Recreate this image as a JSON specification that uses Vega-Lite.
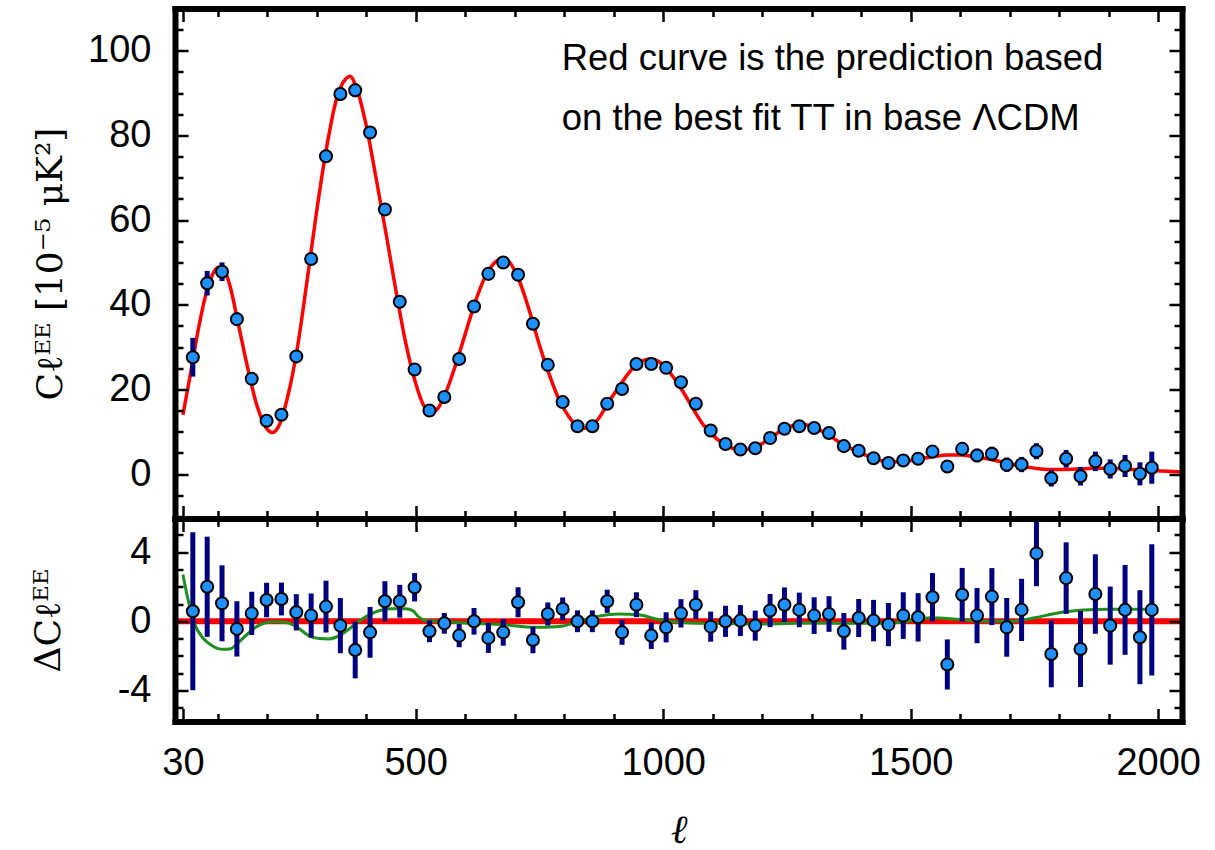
{
"$schema": "https://vega.github.io/schema/vega-lite/v6.json",
"autosize": {"type": "pad"},
"padding": {"left": 30, "top": 6.5, "right": 5, "bottom": 5},
"background": "white",
"bounds": "flush",
"spacing": 0,
"datasets": {
"bins": [
{"l":50,"c":27.6,"r":0.58,"e":4.57},{"l":79,"c":45.1,"r":2.0,"e":2.9},{"l":109,"c":47.8,"r":1.04,"e":2.2},{"l":139,"c":36.6,"r":-0.44,"e":1.6},{"l":169,"c":22.5,"r":0.46,"e":1.25},{"l":199,"c":12.6,"r":1.23,"e":1.0},{"l":229,"c":14.0,"r":1.29,"e":0.95},{"l":259,"c":27.8,"r":0.52,"e":1.05},{"l":289,"c":50.8,"r":0.33,"e":1.28},{"l":319,"c":75.1,"r":0.85,"e":1.5},{"l":348,"c":89.8,"r":-0.25,"e":1.6},{"l":378,"c":90.7,"r":-1.66,"e":1.64},{"l":408,"c":80.7,"r":-0.64,"e":1.47},{"l":438,"c":62.5,"r":1.16,"e":1.16},{"l":468,"c":40.7,"r":1.16,"e":0.95},{"l":498,"c":24.7,"r":1.97,"e":0.82},{"l":528,"c":15.0,"r":-0.58,"e":0.63},{"l":558,"c":18.2,"r":-0.12,"e":0.6},{"l":588,"c":27.2,"r":-0.83,"e":0.67},{"l":618,"c":39.6,"r":0.0,"e":0.77},{"l":647,"c":47.3,"r":-0.96,"e":0.87},{"l":677,"c":50.0,"r":-0.64,"e":0.77},{"l":707,"c":47.1,"r":1.1,"e":0.87},{"l":737,"c":35.5,"r":-1.08,"e":0.77},{"l":767,"c":25.8,"r":0.42,"e":0.67},{"l":797,"c":17.0,"r":0.71,"e":0.67},{"l":827,"c":11.3,"r":0.0,"e":0.63},{"l":857,"c":11.3,"r":0.0,"e":0.63},{"l":887,"c":16.6,"r":1.16,"e":0.67},{"l":917,"c":20.1,"r":-0.64,"e":0.72},{"l":946,"c":26.0,"r":0.96,"e":0.72},{"l":976,"c":26.0,"r":-0.83,"e":0.77},{"l":1006,"c":25.1,"r":-0.35,"e":0.87},{"l":1036,"c":21.7,"r":0.46,"e":0.82},{"l":1066,"c":16.6,"r":0.96,"e":0.84},{"l":1096,"c":10.3,"r":-0.31,"e":0.87},{"l":1126,"c":7.1,"r":0.0,"e":0.9},{"l":1156,"c":5.8,"r":0.04,"e":0.9},{"l":1186,"c":6.1,"r":-0.25,"e":0.87},{"l":1216,"c":8.5,"r":0.62,"e":0.96},{"l":1245,"c":10.7,"r":0.96,"e":1.0},{"l":1275,"c":11.3,"r":0.66,"e":1.0},{"l":1305,"c":10.9,"r":0.33,"e":1.06},{"l":1335,"c":9.7,"r":0.42,"e":1.03},{"l":1365,"c":6.6,"r":-0.58,"e":1.06},{"l":1395,"c":5.5,"r":0.19,"e":1.1},{"l":1425,"c":3.75,"r":0.04,"e":1.2},{"l":1455,"c":2.6,"r":-0.19,"e":1.25},{"l":1485,"c":3.2,"r":0.33,"e":1.35},{"l":1515,"c":3.6,"r":0.23,"e":1.4},{"l":1544,"c":5.3,"r":1.39,"e":1.4},{"l":1574,"c":1.8,"r":-2.5,"e":1.45},{"l":1604,"c":5.95,"r":1.54,"e":1.55},{"l":1634,"c":4.4,"r":0.33,"e":1.6},{"l":1664,"c":4.8,"r":1.43,"e":1.65},{"l":1694,"c":2.2,"r":-0.35,"e":1.7},{"l":1724,"c":2.25,"r":0.66,"e":1.8},{"l":1754,"c":5.4,"r":3.93,"e":1.9},{"l":1784,"c":-1.0,"r":-1.89,"e":1.93},{"l":1814,"c":3.6,"r":2.5,"e":2.07},{"l":1843,"c":-0.5,"r":-1.6,"e":2.2},{"l":1873,"c":3.0,"r":1.58,"e":2.3},{"l":1903,"c":1.2,"r":-0.25,"e":2.26},{"l":1933,"c":1.9,"r":0.66,"e":2.6},{"l":1963,"c":0.05,"r":-0.92,"e":2.72},{"l":1987,"c":1.5,"r":0.66,"e":3.8}
],
"model": [
{"l":30,"v":14.0},{"l":45,"v":23.5},{"l":60,"v":33.5},{"l":80,"v":44},{"l":100,"v":48.8},{"l":108,"v":49},{"l":125,"v":44.5},{"l":140,"v":36.5},{"l":160,"v":25.5},{"l":180,"v":16},{"l":200,"v":10.6},{"l":210,"v":9.8},{"l":222,"v":11},{"l":240,"v":17.5},{"l":260,"v":29},{"l":280,"v":45},{"l":300,"v":62},{"l":320,"v":77},{"l":340,"v":88.5},{"l":360,"v":93.5},{"l":367,"v":94},{"l":380,"v":91.5},{"l":400,"v":82.5},{"l":420,"v":70},{"l":440,"v":57},{"l":460,"v":43.5},{"l":480,"v":31},{"l":500,"v":21.5},{"l":515,"v":16.5},{"l":530,"v":14.4},{"l":545,"v":15.5},{"l":560,"v":19},{"l":580,"v":25.5},{"l":600,"v":33},{"l":620,"v":40.5},{"l":640,"v":46.5},{"l":660,"v":50},{"l":675,"v":51},{"l":690,"v":50},{"l":710,"v":45.5},{"l":730,"v":38.5},{"l":750,"v":30.5},{"l":770,"v":23.5},{"l":790,"v":17.5},{"l":810,"v":13.5},{"l":825,"v":11.4},{"l":840,"v":10.8},{"l":855,"v":11.3},{"l":870,"v":13.2},{"l":890,"v":17},{"l":910,"v":20.5},{"l":930,"v":23.8},{"l":950,"v":26.2},{"l":975,"v":27.2},{"l":1000,"v":25.8},{"l":1020,"v":23},{"l":1040,"v":19.5},{"l":1060,"v":15.5},{"l":1080,"v":11.8},{"l":1100,"v":9.2},{"l":1120,"v":7.3},{"l":1140,"v":6.1},{"l":1160,"v":5.7},{"l":1180,"v":6.1},{"l":1200,"v":7.2},{"l":1220,"v":8.8},{"l":1240,"v":10.4},{"l":1260,"v":11.4},{"l":1275,"v":11.8},{"l":1290,"v":11.6},{"l":1310,"v":10.8},{"l":1330,"v":9.5},{"l":1350,"v":8.0},{"l":1370,"v":6.6},{"l":1390,"v":5.4},{"l":1410,"v":4.4},{"l":1430,"v":3.5},{"l":1455,"v":2.9},{"l":1480,"v":2.9},{"l":1500,"v":3.2},{"l":1520,"v":3.6},{"l":1545,"v":4.1},{"l":1575,"v":4.5},{"l":1600,"v":4.5},{"l":1630,"v":4.1},{"l":1660,"v":3.5},{"l":1690,"v":2.7},{"l":1720,"v":1.9},{"l":1750,"v":1.4},{"l":1780,"v":1.1},{"l":1810,"v":1.1},{"l":1840,"v":1.2},{"l":1870,"v":1.35},{"l":1900,"v":1.35},{"l":1930,"v":1.2},{"l":1960,"v":1.0},{"l":1990,"v":0.85},{"l":2020,"v":0.65},{"l":2048,"v":0.5}
],
"green": [
{"l":30,"d":2.7},{"l":40,"d":1.3},{"l":55,"d":-0.25},{"l":70,"d":-0.95},{"l":89,"d":-1.41},{"l":110,"d":-1.62},{"l":125,"d":-1.6},{"l":143,"d":-1.2},{"l":160,"d":-0.75},{"l":177,"d":-0.35},{"l":195,"d":-0.1},{"l":215,"d":-0.03},{"l":237,"d":-0.06},{"l":261,"d":-0.35},{"l":284,"d":-0.83},{"l":305,"d":-1.0},{"l":325,"d":-1.02},{"l":352,"d":-0.73},{"l":372,"d":-0.3},{"l":392,"d":0.13},{"l":426,"d":0.61},{"l":450,"d":0.72},{"l":480,"d":0.72},{"l":495,"d":0.6},{"l":506,"d":0.25},{"l":520,"d":0.05},{"l":545,"d":0.0},{"l":600,"d":-0.1},{"l":680,"d":-0.2},{"l":740,"d":-0.35},{"l":790,"d":-0.3},{"l":830,"d":0.0},{"l":870,"d":0.3},{"l":910,"d":0.42},{"l":950,"d":0.38},{"l":990,"d":0.1},{"l":1030,"d":-0.05},{"l":1100,"d":-0.12},{"l":1200,"d":-0.15},{"l":1300,"d":-0.1},{"l":1400,"d":-0.12},{"l":1480,"d":-0.05},{"l":1540,"d":0.2},{"l":1600,"d":0.1},{"l":1660,"d":0.0},{"l":1700,"d":0.0},{"l":1750,"d":0.2},{"l":1800,"d":0.5},{"l":1850,"d":0.65},{"l":1900,"d":0.7},{"l":1990,"d":0.7}
],
"zero": [{"l":14,"d":0},{"l":2048,"d":0}]
},
"vconcat": [
{
"width": 1007, "height": 510,
"resolve": {"axis": {"x": "independent", "y": "independent"}},
"layer": [
{"data": {"name": "model"},
 "mark": {"type": "line", "color": "#ff0000", "strokeWidth": 3.5, "interpolate": "monotone"},
 "encoding": {
  "x": {"field": "l", "type": "quantitative", "scale": {"domain": [14, 2048], "nice": false, "zero": false},
        "axis": {"orient": "bottom", "values": [30, 500, 1000, 1500, 2000], "tickSize": -13, "labels": false, "title": null, "domain": true, "zindex": 1}},
  "y": {"field": "v", "type": "quantitative", "scale": {"domain": [-10.5, 110], "nice": false, "zero": false},
        "axis": {"orient": "left", "values": [0, 20, 40, 60, 80, 100], "tickSize": -13, "labelPadding": 37, "title": "Cℓᴱᴱ  [10⁻⁵ μK²]", "titleFont": "DejaVu Serif", "titleFontSize": 36, "titlePadding": 18, "domain": true, "zindex": 1}}
 }},
{"data": {"name": "bins"},
 "mark": {"type": "errorbar", "thickness": 5, "color": "#000080"},
 "encoding": {
  "x": {"field": "l", "type": "quantitative", "scale": {"domain": [14, 2048], "nice": false, "zero": false},
        "axis": {"orient": "bottom", "values": [100, 200, 300, 400, 600, 700, 800, 900, 1100, 1200, 1300, 1400, 1600, 1700, 1800, 1900], "tickSize": -8, "labels": false, "title": null, "domain": false, "zindex": 1}},
  "y": {"field": "c", "type": "quantitative", "scale": {"domain": [-10.5, 110], "nice": false, "zero": false},
        "axis": {"orient": "left", "values": [-10, -5, 5, 10, 15, 25, 30, 35, 45, 50, 55, 65, 70, 75, 85, 90, 95, 105], "tickSize": -8, "labels": false, "title": null, "domain": false, "zindex": 1}},
  "yError": {"field": "e"}
 }},
{"data": {"name": "bins"},
 "mark": {"type": "circle", "color": "#1E90FF", "stroke": "black", "strokeWidth": 2, "size": 145, "opacity": 1},
 "encoding": {
  "x": {"field": "l", "type": "quantitative", "scale": {"domain": [14, 2048], "nice": false, "zero": false},
        "axis": {"orient": "top", "values": [30, 500, 1000, 1500, 2000], "tickSize": -13, "labels": false, "title": null, "domain": true, "zindex": 1}},
  "y": {"field": "c", "type": "quantitative", "scale": {"domain": [-10.5, 110], "nice": false, "zero": false},
        "axis": {"orient": "right", "values": [0, 20, 40, 60, 80, 100], "tickSize": -13, "labels": false, "title": null, "domain": true, "zindex": 1}}
 }},
{"data": {"values": [{}]},
 "mark": {"type": "text", "text": ["Red curve is the prediction based", "on the best fit TT in base ΛCDM"], "align": "left", "baseline": "alphabetic", "font": "Liberation Sans", "fontSize": 36.5, "lineHeight": 60, "color": "black"},
 "encoding": {
  "x": {"datum": 795, "type": "quantitative", "scale": {"domain": [14, 2048], "nice": false, "zero": false},
        "axis": {"orient": "top", "values": [100, 200, 300, 400, 600, 700, 800, 900, 1100, 1200, 1300, 1400, 1600, 1700, 1800, 1900], "tickSize": -8, "labels": false, "title": null, "domain": false, "zindex": 1}},
  "y": {"datum": 95.5, "type": "quantitative", "scale": {"domain": [-10.5, 110], "nice": false, "zero": false},
        "axis": {"orient": "right", "values": [-10, -5, 5, 10, 15, 25, 30, 35, 45, 50, 55, 65, 70, 75, 85, 90, 95, 105], "tickSize": -8, "labels": false, "title": null, "domain": false, "zindex": 1}}
 }}
]
},
{
"width": 1007, "height": 203,
"resolve": {"axis": {"x": "independent", "y": "independent"}},
"layer": [
{"data": {"name": "zero"},
 "mark": {"type": "line", "color": "#ff0000", "strokeWidth": 6},
 "encoding": {
  "x": {"field": "l", "type": "quantitative", "scale": {"domain": [14, 2048], "nice": false, "zero": false},
        "axis": {"orient": "top", "values": [100, 200, 300, 400, 600, 700, 800, 900, 1100, 1200, 1300, 1400, 1600, 1700, 1800, 1900], "tickSize": -8, "labels": false, "title": null, "domain": false, "zindex": 1}},
  "y": {"field": "d", "type": "quantitative", "scale": {"domain": [-5.8, 5.95], "nice": false, "zero": false},
        "axis": {"orient": "right", "values": [-5, -3, -2, -1, 1, 2, 3, 5], "tickSize": -8, "labels": false, "title": null, "domain": false, "zindex": 1}}
 }},
{"data": {"name": "green"},
 "mark": {"type": "line", "color": "#1f8f1f", "strokeWidth": 3, "interpolate": "monotone"},
 "encoding": {
  "x": {"field": "l", "type": "quantitative", "scale": {"domain": [14, 2048], "nice": false, "zero": false},
        "axis": {"orient": "bottom", "values": [30, 500, 1000, 1500, 2000], "format": "d", "tickSize": -13, "labels": true, "labelPadding": 35.5, "title": "ℓ", "titleFont": "DejaVu Serif", "titleFontStyle": "italic", "titleFontSize": 40, "titlePadding": 28, "domain": true, "zindex": 1}},
  "y": {"field": "d", "type": "quantitative", "scale": {"domain": [-5.8, 5.95], "nice": false, "zero": false},
        "axis": {"orient": "left", "values": [-4, 0, 4], "tickSize": -13, "labelPadding": 37, "labelExpr": "replace(datum.label, '−', '-')", "title": "ΔCℓᴱᴱ", "titleFont": "DejaVu Serif", "titleFontSize": 36, "titlePadding": 50, "domain": true, "zindex": 1}}
 }},
{"data": {"name": "bins"},
 "mark": {"type": "errorbar", "thickness": 5, "color": "#000080"},
 "encoding": {
  "x": {"field": "l", "type": "quantitative", "scale": {"domain": [14, 2048], "nice": false, "zero": false},
        "axis": {"orient": "bottom", "values": [100, 200, 300, 400, 600, 700, 800, 900, 1100, 1200, 1300, 1400, 1600, 1700, 1800, 1900], "tickSize": -8, "labels": false, "title": null, "domain": false, "zindex": 1}},
  "y": {"field": "r", "type": "quantitative", "scale": {"domain": [-5.8, 5.95], "nice": false, "zero": false},
        "axis": {"orient": "left", "values": [-5, -3, -2, -1, 1, 2, 3, 5], "tickSize": -8, "labels": false, "title": null, "domain": false, "zindex": 1}},
  "yError": {"field": "e"}
 }},
{"data": {"name": "bins"},
 "mark": {"type": "circle", "color": "#1E90FF", "stroke": "black", "strokeWidth": 2, "size": 145, "opacity": 1},
 "encoding": {
  "x": {"field": "l", "type": "quantitative", "scale": {"domain": [14, 2048], "nice": false, "zero": false},
        "axis": {"orient": "top", "values": [30, 500, 1000, 1500, 2000], "tickSize": -13, "labels": false, "title": null, "domain": true, "zindex": 1}},
  "y": {"field": "r", "type": "quantitative", "scale": {"domain": [-5.8, 5.95], "nice": false, "zero": false},
        "axis": {"orient": "right", "values": [-4, 0, 4], "tickSize": -13, "labels": false, "title": null, "domain": true, "zindex": 1}}
 }}
]
}
],
"config": {
 "axis": {"labelFont": "Liberation Sans", "labelFontSize": 38, "labelColor": "#000", "tickColor": "#000", "tickWidth": 2.5, "domainColor": "#000", "domainWidth": 6, "domainCap": "square", "grid": false, "labelFlush": false, "labelOverlap": false, "titleColor": "#000", "titleFontWeight": "normal"},
 "view": {"stroke": null}
}
}
